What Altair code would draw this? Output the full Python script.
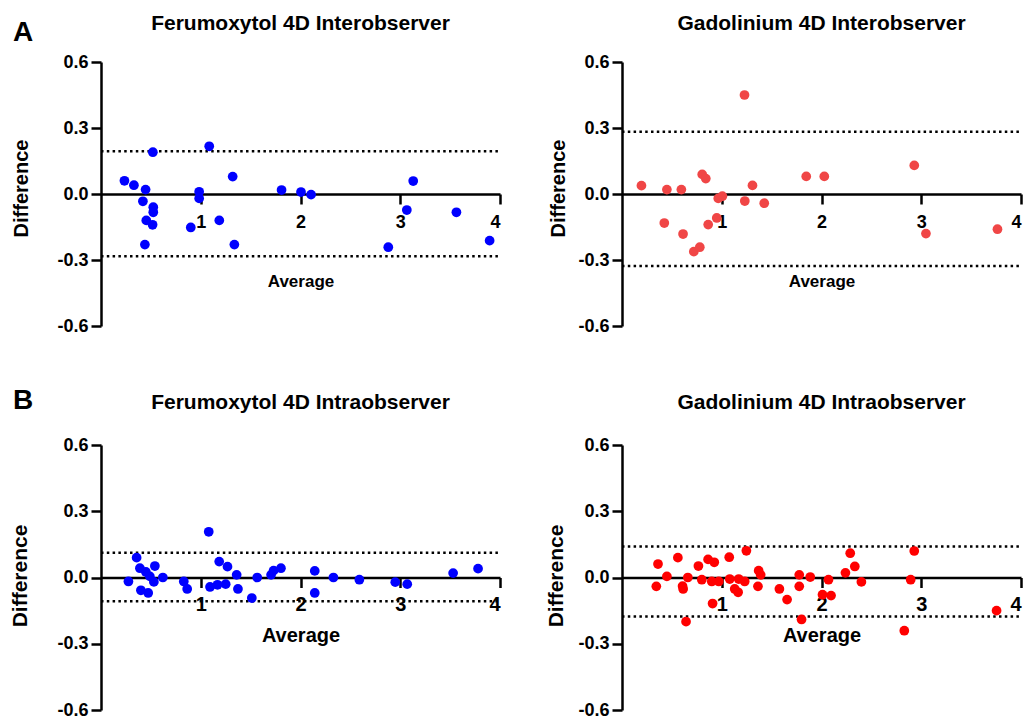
import altair as alt
import pandas as pd

FONT = "Liberation Sans"

# ---- data ----
titles = ["Ferumoxytol 4D Interobserver", "Gadolinium 4D Interobserver",
          "Ferumoxytol 4D Intraobserver", "Gadolinium 4D Intraobserver"]
panel_letters = ["A", "B"]
x_ticks = [1, 2, 3, 4]
y_ticks = [-0.6, -0.3, 0.0, 0.3, 0.6]

fa_avg = [0.235, 0.33, 0.447, 0.42, 0.52, 0.524, 0.524, 0.454, 0.517, 0.44,
          0.90, 0.984, 0.984, 1.085, 1.186, 1.32, 1.337, 1.81, 2.005, 2.106,
          2.88, 3.066, 3.13, 3.563, 3.896]
fa_diff = [0.06, 0.04, 0.02, -0.033, 0.19, -0.06, -0.083, -0.12, -0.14, -0.23,
           -0.152, 0.01, -0.02, 0.217, -0.12, 0.079, -0.23, 0.018, 0.009, -0.003,
           -0.242, -0.073, 0.059, -0.083, -0.212]
fa_limits = [0.194, -0.283]

ga_avg = [0.195, 0.424, 0.45, 0.595, 0.612, 0.72, 0.78, 0.804, 0.84, 0.864,
          0.95, 0.965, 1.006, 1.228, 1.231, 1.308, 1.426, 1.847, 2.028, 2.93,
          3.047, 3.764]
ga_diff = [0.038, -0.132, 0.02, 0.02, -0.182, -0.262, -0.242, 0.089, 0.07, -0.139,
           -0.109, -0.02, -0.01, 0.45, -0.032, 0.039, -0.042, 0.08, 0.08, 0.13,
           -0.18, -0.16]
ga_limits = [0.283, -0.327]

fb_avg = [0.275, 0.357, 0.39, 0.40, 0.473, 0.45, 0.49, 0.54, 0.53, 0.62,
          0.83, 0.864, 1.08, 1.093, 1.168, 1.185, 1.25, 1.268, 1.36, 1.373,
          1.512, 1.566, 1.705, 1.73, 1.804, 2.143, 2.143, 2.33, 2.59, 2.95,
          3.07, 3.53, 3.78]
fb_diff = [-0.018, 0.09, 0.042, -0.058, -0.07, 0.025, 0.005, 0.052, -0.02, 0.0,
           -0.018, -0.052, 0.207, -0.043, -0.033, 0.072, -0.03, 0.049, 0.012, -0.052,
           -0.093, 0.0, 0.012, 0.031, 0.042, 0.03, -0.07, 0.0, -0.01, -0.021,
           -0.03, 0.02, 0.04]
fb_limits = [0.1125, -0.108]

gb_avg = [0.344, 0.361, 0.45, 0.56, 0.607, 0.613, 0.66, 0.642, 0.766, 0.80,
          0.863, 0.925, 0.90, 0.908, 0.97, 1.075, 1.08, 1.13, 1.164, 1.17,
          1.23, 1.247, 1.37, 1.39, 1.363, 1.578, 1.655, 1.777, 1.777, 1.80,
          1.887, 2.01, 2.07, 2.096, 2.24, 2.288, 2.334, 2.40, 2.83, 2.894,
          2.93, 3.755]
gb_diff = [-0.04, 0.061, 0.005, 0.09, -0.039, -0.052, 0.0, -0.2, 0.052, -0.01,
           0.082, 0.069, -0.018, -0.118, -0.018, 0.092, -0.007, -0.052, -0.067, -0.007,
           -0.018, 0.121, 0.031, 0.012, -0.04, -0.052, -0.1, 0.012, -0.04, -0.19,
           0.002, -0.078, -0.01, -0.082, 0.021, 0.11, 0.05, -0.02, -0.241, -0.01,
           0.12, -0.15]
gb_limits = [0.14, -0.177]

BLUE = "#0000FF"
CORAL = "#F04646"
RED = "#FF0000"

W = 399


def panel(avg, diff, limits, color, title, H, ytitle_x, ytitle_dy,
          xtitle_y, xtitle_size, xlabel_size, ytitle_size, title_y,
          letter=None, letter_y=None):
    df = pd.DataFrame({"avg": avg, "diff": diff})
    lim = pd.DataFrame({"diff": limits})
    xs = alt.Scale(domain=[0, 4], nice=False, zero=False)
    ys = alt.Scale(domain=[-0.6, 0.6], nice=False)
    yexpr = ("datum.value < 0 ? '-' + format(-datum.value, '.1f') : "
             "format(datum.value, '.1f')")
    pts = alt.Chart(df).mark_circle(size=95, opacity=1, color=color).encode(
        x=alt.X("avg:Q", scale=xs, axis=alt.Axis(
            values=x_ticks, format="d", offset=-H / 2, grid=False,
            title="Average", titleFontSize=xtitle_size, titleX=W / 2,
            titleY=xtitle_y, titleBaseline="alphabetic", titleAlign="center",
            tickSize=10, labelPadding=23, labelBaseline="alphabetic",
            labelFontSize=xlabel_size)),
        y=alt.Y("diff:Q", scale=ys, axis=alt.Axis(
            values=y_ticks, labelExpr=yexpr, grid=False,
            title="Difference", titleFontSize=ytitle_size, titleX=ytitle_x,
            titleY=H / 2 + ytitle_dy, titleAngle=270, titleAlign="center",
            titleBaseline="middle", tickSize=10, labelPadding=3,
            labelFontSize=18, labelBaseline="middle")),
    )
    rules = alt.Chart(lim).mark_rule(
        color="black", strokeWidth=2.5, strokeDash=[2.5, 3.3]
    ).encode(y=alt.Y("diff:Q", scale=ys), x=alt.value(0), x2=alt.value(W))
    ttl = alt.Chart(pd.DataFrame({"t": [title]})).mark_text(
        font=FONT, fontSize=21, fontWeight="bold", color="black",
        align="center", baseline="alphabetic"
    ).encode(text="t:N", x=alt.value(W / 2), y=alt.value(title_y))
    layers = [rules, pts, ttl]
    if letter is not None:
        lt = alt.Chart(pd.DataFrame({"t": [letter]})).mark_text(
            font=FONT, fontSize=28, fontWeight="bold", color="black",
            align="center", baseline="alphabetic"
        ).encode(text="t:N", x=alt.value(-78), y=alt.value(letter_y))
        layers.append(lt)
    return alt.layer(*layers).properties(width=W, height=H)


HA = 264
HB = 265
a1 = panel(fa_avg, fa_diff, fa_limits, BLUE, titles[0], HA, -80, -6, 92, 17, 18, 20, -32,
           panel_letters[0], -21)
a2 = panel(ga_avg, ga_diff, ga_limits, CORAL, titles[1], HA, -64, -6, 92, 17, 18, 20, -32)
b1 = panel(fb_avg, fb_diff, fb_limits, BLUE, titles[2], HB, -81, -2, 64, 20, 20, 21, -36,
           panel_letters[1], -36)
b2 = panel(gb_avg, gb_diff, gb_limits, RED, titles[3], HB, -66, -2, 64, 20, 20, 21, -36)

chart = alt.concat(a1, a2, b1, b2, columns=2, bounds="flush",
                   spacing={"row": 119, "column": 122}).properties(
    padding={"left": 9, "top": 13, "right": 0, "bottom": 0}
).configure_view(stroke=None).configure_axis(
    labelFont=FONT, titleFont=FONT, labelFontWeight="bold", titleFontWeight="bold",
    labelColor="black", titleColor="black", domainColor="black", tickColor="black",
    domainWidth=2.5, tickWidth=2.5,
)

chart.save("out.html", embed_options={"renderer": "svg", "actions": False})
